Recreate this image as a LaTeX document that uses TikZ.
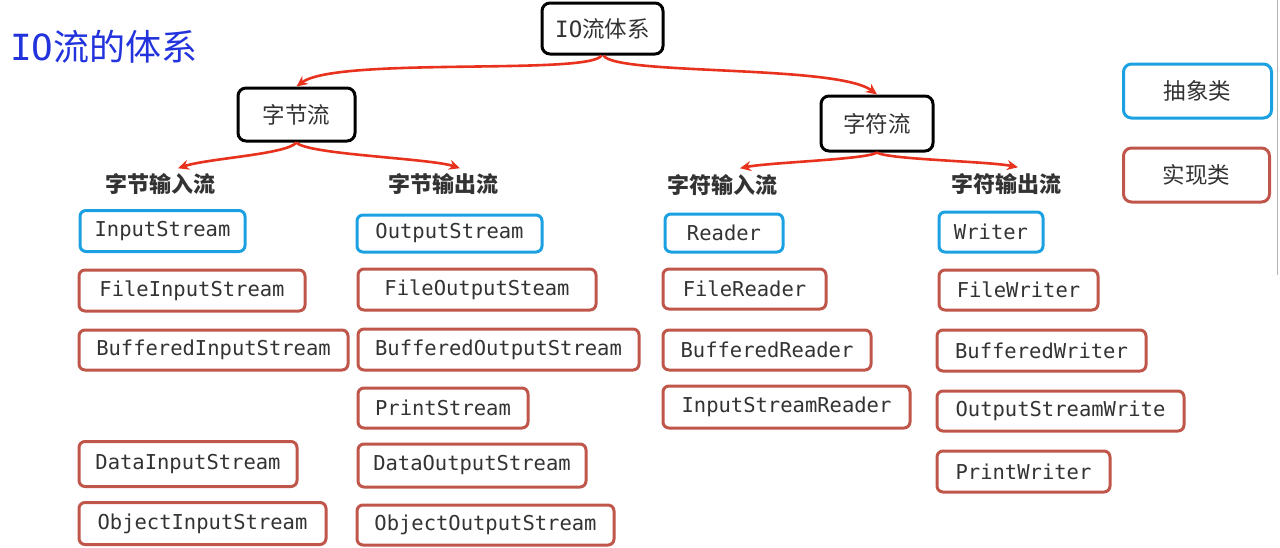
\documentclass[tikz,border=0pt]{standalone}
\usepackage{fontspec}
\usetikzlibrary{arrows.meta,calc}
\newfontfamily\cjk{Noto Sans CJK SC}
\newfontfamily\mono{DejaVu Sans Mono}
\definecolor{absblue}{HTML}{1BA1E2}
\definecolor{implred}{HTML}{C0554A}
\definecolor{arrred}{HTML}{E8321E}
\definecolor{txt}{HTML}{333333}
\definecolor{ttlblue}{HTML}{2233DD}
\tikzset{
  topbox/.style={draw=black, line width=3pt, rounded corners=8pt, fill=white, text=txt, font=\cjk\fontsize{22.5}{26}\selectfont, inner sep=0pt},
  absbox/.style={draw=absblue, line width=3pt, rounded corners=6pt, text=txt, font=\mono\fontsize{20.5}{24}\selectfont, inner sep=0pt},
  implbox/.style={draw=implred, line width=3pt, rounded corners=6pt, text=txt, font=\mono\fontsize{20.5}{24}\selectfont, inner sep=0pt},
  legabs/.style={draw=absblue, line width=3pt, rounded corners=8pt, text=txt, font=\cjk\fontsize{22.5}{26}\selectfont, inner sep=0pt, minimum width=148, minimum height=54},
  legimpl/.style={draw=implred, line width=3pt, rounded corners=8pt, text=txt, font=\cjk\fontsize{22.5}{26}\selectfont, inner sep=0pt, minimum width=146, minimum height=54},
  grouplbl/.style={text=txt, font=\cjk\bfseries\fontsize{22}{26}\selectfont, inner sep=0pt},
  conn/.style={draw=arrred, line width=2.6pt, -{Stealth[length=11pt,width=10pt]}},
}
\begin{document}
\begin{tikzpicture}[x=1pt,y=-1pt]
\useasboundingbox (0,0) rectangle (1280,547);
\fill[white] (0,0) rectangle (1280,547);
\draw[gray!60, line width=1pt] (1277,0) -- (1277,275);

% title
\node[text=ttlblue, font=\cjk\fontsize{36}{40}\selectfont, anchor=west, inner sep=0pt] (title) at (10,47) {{\mono IO}流的体系};

% top level
\node[topbox, minimum width=121, minimum height=51] (io) at (602.5,28.5) {{\mono IO}流体系};
\node[topbox, minimum width=117, minimum height=53] (byte) at (296.5,114.5) {字节流};
\node[topbox, minimum width=112, minimum height=55] (char) at (877,123.5) {字符流};

% legend
\node[legabs] (lab) at (1197.5,91) {抽象类};
\node[legimpl] (lim) at (1196.5,175) {实现类};

% group labels
\node[grouplbl] (bin) at (160,184) {字节输入流};
\node[grouplbl] (bout) at (443,184) {字节输出流};
\node[grouplbl] (cin) at (722,185) {字符输入流};
\node[grouplbl] (cout) at (1006,184) {字符输出流};

% connectors
\draw[conn] ($(io.south)+(-1,0)$) .. controls +(-12,20) and +(40,-30) .. (byte.north);
\draw[conn] ($(io.south)+(1,0)$) .. controls +(12,20) and +(-40,-30) .. (char.north);
\draw[conn] (byte.south) .. controls +(-10,12) and +(30,-10) .. ($(bin.north)+(18,-5)$);
\draw[conn] (byte.south) .. controls +(10,12) and +(-30,-10) .. ($(bout.north)+(17,-5)$);
\draw[conn] (char.south) .. controls +(-10,7) and +(30,-6) .. ($(cin.north)+(18,-6)$);
\draw[conn] (char.south) .. controls +(10,7) and +(-30,-6) .. ($(cout.north)+(12,-6)$);

% column 1
\node[absbox, minimum width=165, minimum height=41] (is) at (162.5,231) {InputStream};
\node[implbox, minimum width=226, minimum height=41] (fis) at (192,290.5) {FileInputStream};
\node[implbox, minimum width=269, minimum height=40] (bis) at (213.5,350) {BufferedInputStream};
\node[implbox, minimum width=218, minimum height=45] (dis) at (188,464) {DataInputStream};
\node[implbox, minimum width=247, minimum height=42] (ois) at (202.5,523.5) {ObjectInputStream};

% column 2
\node[absbox, minimum width=185, minimum height=37] (os) at (449.5,233.5) {OutputStream};
\node[implbox, minimum width=238, minimum height=41] (fos) at (477,289.5) {FileOutputSteam};
\node[implbox, minimum width=281, minimum height=41] (bos) at (498.5,349.5) {BufferedOutputStream};
\node[implbox, minimum width=170, minimum height=40] (ps) at (443,408) {PrintStream};
\node[implbox, minimum width=228, minimum height=43] (dos) at (472,465.5) {DataOutputStream};
\node[implbox, minimum width=257, minimum height=40] (oos) at (485.5,525) {ObjectOutputStream};

% column 3
\node[absbox, minimum width=118, minimum height=38] (rd) at (724,233) {Reader};
\node[implbox, minimum width=163, minimum height=40] (frd) at (744.5,289) {FileReader};
\node[implbox, minimum width=208, minimum height=40] (brd) at (767,350) {BufferedReader};
\node[implbox, minimum width=247, minimum height=42] (isr) at (786.5,407) {InputStreamReader};

% column 4
\node[absbox, minimum width=104, minimum height=40] (wr) at (991,232) {Writer};
\node[implbox, minimum width=159, minimum height=40] (fwr) at (1018.5,290) {FileWriter};
\node[implbox, minimum width=209, minimum height=41] (bwr) at (1041.5,350.5) {BufferedWriter};
\node[implbox, minimum width=247, minimum height=40] (osw) at (1060.5,411) {OutputStreamWrite};
\node[implbox, minimum width=173, minimum height=41] (pwr) at (1023.5,471.5) {PrintWriter};
\end{tikzpicture}
\end{document}
